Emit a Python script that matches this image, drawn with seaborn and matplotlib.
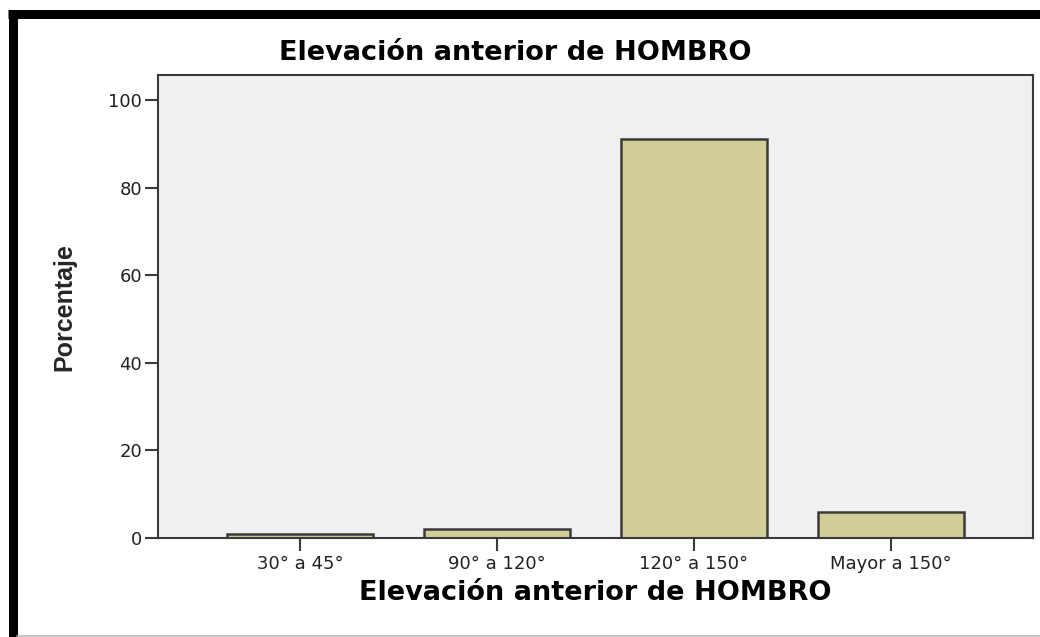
import matplotlib
matplotlib.use("Agg")
import matplotlib.pyplot as plt
import seaborn as sns
import pandas as pd
from matplotlib.lines import Line2D

categories = ["30° a 45°", "90° a 120°", "120° a 150°", "Mayor a 150°"]
percentages = [0.98, 1.96, 91.18, 5.88]
yticks = [0, 20, 40, 60, 80, 100]
title = "Elevación anterior de HOMBRO"
xlabel = "Elevación anterior de HOMBRO"
ylabel = "Porcentaje"

sns.set_theme(style="white")
plt.rcParams['font.family'] = ['DejaVu Sans']

df = pd.DataFrame({"cat": categories, "pct": percentages})

fig = plt.figure(figsize=(10.4, 6.37), dpi=100)
fig.patch.set_facecolor("white")
ax = fig.add_axes([158/1040, 1-538/637, (1033-158)/1040, (538-75)/637])
ax.set_facecolor("#f0f0f0")

sns.barplot(data=df, x="cat", y="pct", ax=ax, color="#d3ce97", saturation=1,
            width=0.74, edgecolor="#3a3a3a", linewidth=1.8, errorbar=None)

ax.set_xlim(-0.72, 3.72)
ax.set_ylim(0, 105.7)
ax.set_yticks(yticks)
ax.set_yticklabels([str(v) for v in yticks])
for s in ax.spines.values():
    s.set_visible(True)
    s.set_color("#3a3a3a")
    s.set_linewidth(1.5)
ax.tick_params(axis="both", which="both", direction="out", length=9.5, width=1.5,
               color="#3a3a3a", labelsize=13, labelcolor="#222222", pad=2,
               bottom=True, left=True)
ax.tick_params(axis="x", pad=3, length=9)

ax.set_xlabel(xlabel, fontsize=19.5, fontweight="bold", color="black", labelpad=5)
ax.set_ylabel("")
fig.text(64/1040, 1-307/637, ylabel, rotation=90, ha="center", va="center",
         fontsize=18, fontweight="bold", family=['Liberation Sans', 'DejaVu Sans'])
fig.text(515/1040, 1-53/637, title, ha="center", va="center", fontsize=19.5,
         fontweight="bold", color="black")

# frame lines
fig.add_artist(Line2D([8/1040, 1.0], [1-14/637, 1-14/637], transform=fig.transFigure,
                      color="black", linewidth=6.5, solid_capstyle="butt"))
fig.add_artist(Line2D([12.5/1040, 12.5/1040], [0, 1-10/637], transform=fig.transFigure,
                      color="black", linewidth=6.5, solid_capstyle="butt"))
fig.add_artist(Line2D([17/1040, 1.0], [1-636/637, 1-636/637], transform=fig.transFigure,
                      color="#bbbbbb", linewidth=1.2))

fig.savefig("out.png", dpi=100)
